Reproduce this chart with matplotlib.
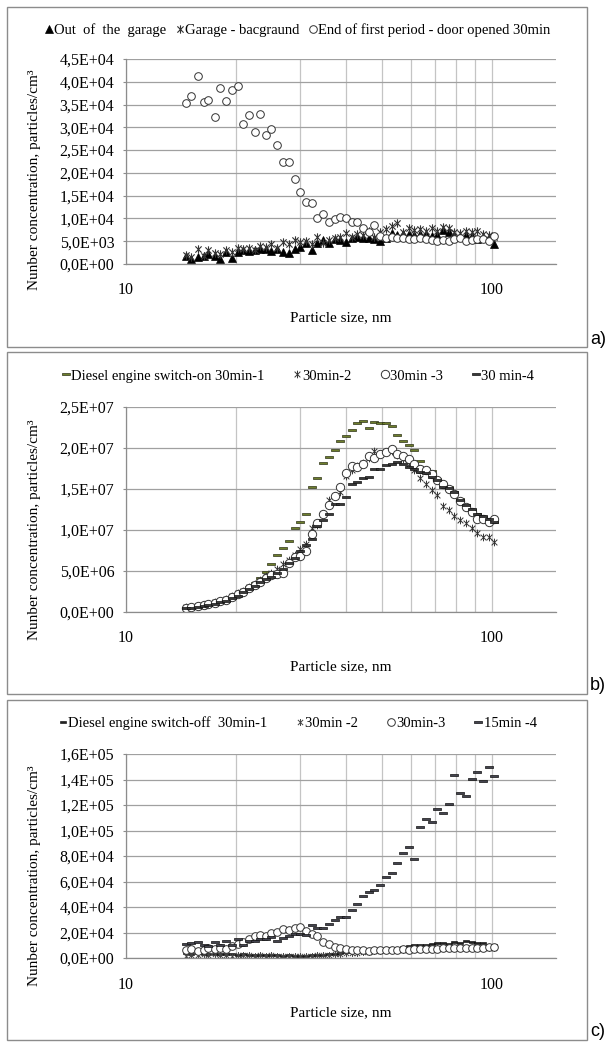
import numpy as np
import matplotlib
matplotlib.use("Agg")
from matplotlib import pyplot as plt
from matplotlib.path import Path
from matplotlib.patches import Rectangle
from matplotlib.ticker import FixedLocator, FuncFormatter, NullFormatter

plt.rcParams['font.family'] = ['Liberation Serif', 'DejaVu Serif']

# particle size channels, nm
size_nm = [14.6, 15.1, 15.7, 16.3, 16.8, 17.5, 18.1, 18.8, 19.5, 20.2,
           20.9, 21.7, 22.5, 23.3, 24.1, 25.0, 25.9, 26.9, 27.9, 28.9,
           30.0, 31.1, 32.2, 33.4, 34.6, 35.9, 37.2, 38.5, 40.0, 41.4,
           42.9, 44.5, 46.1, 47.8, 49.6, 51.4, 53.3, 55.2, 57.3, 59.4,
           61.5, 63.8, 66.1, 68.5, 71.0, 73.7, 76.4, 79.1, 82.0, 85.1,
           88.2, 91.4, 94.7, 98.2, 101.8]

# a) garage
a_out = [1800, 1000, 1600, 1800, 2300, 1700, 1200, 2700, 1400, 2600,
         3100, 2900, 3100, 3400, 3400, 2900, 3300, 2700, 2500, 3400,
         3700, 4700, 3100, 4700, 5300, 4700, 5500, 5300, 4900, 5700,
         5900, 5800, 5600, 5400, 5000, 5600, 6700, 6400, 6500, 6600,
         6300, 6500, 6600, 6100, 6400, 7400, 7000, 6200, 6000, 6300,
         6100, 5500, 5900, 5700, 4400]
a_bg = [2000, 1500, 3200, 1800, 3000, 2500, 2200, 3000, 2700, 3600,
        3300, 3500, 3000, 4000, 3800, 4300, 3600, 4900, 4500, 5300,
        4800, 5100, 4400, 6000, 4700, 5200, 5600, 5900, 6900, 6000,
        6500, 6300, 7200, 6000, 7100, 7600, 8400, 8900, 7000, 7800,
        7400, 7600, 7200, 8000, 7300, 8100, 7800, 7000, 6900, 7200,
        7000, 7200, 6600, 6300, 6000]
a_door = [35300, 36800, 41300, 35500, 36100, 32200, 38600, 35800, 38300, 39000,
          30700, 32600, 29000, 32900, 28400, 29700, 26200, 22400, 22500, 18600,
          15900, 13700, 13300, 10100, 10900, 9200, 9800, 10400, 10200, 9200,
          9200, 7800, 7000, 8500, 6100, 5800, 6000, 5600, 5700, 5500,
          5500, 5600, 5400, 5300, 5000, 5200, 5100, 5500, 5700, 5000,
          5200, 5500, 5400, 5000, 6100]

# b) switch-on, millions per cm3
b_1 = [0.50, 0.55, 0.65, 0.75, 0.85, 1.00, 1.20, 1.45, 1.70, 2.10,
       2.50, 3.00, 3.50, 4.20, 4.90, 5.90, 6.90, 7.80, 8.70, 10.2,
       11.0, 12.0, 15.2, 16.4, 18.2, 18.9, 19.8, 20.8, 21.5, 22.2,
       23.1, 23.3, 22.4, 23.2, 23.1, 23.1, 22.7, 21.6, 20.9, 20.4,
       19.8, 18.4, 17.5, 17.2, 16.2, 15.6, 15.2, 14.6, 13.8, 13.0,
       12.5, 11.9, 11.6, 11.3, 11.0]
b_2 = [0.55, 0.65, 0.75, 0.85, 1.00, 1.20, 1.40, 1.60, 1.90, 2.30,
       2.60, 3.00, 3.40, 3.90, 4.40, 4.80, 5.20, 5.80, 6.40, 7.00,
       7.70, 8.30, 10.2, 10.6, 12.0, 13.6, 14.1, 14.6, 16.6, 17.3,
       17.8, 18.2, 18.8, 19.6, 19.3, 19.5, 19.6, 19.2, 18.7, 18.0,
       17.3, 16.4, 15.6, 14.9, 14.3, 12.9, 12.4, 11.7, 11.2, 10.8,
       10.2, 9.6, 9.2, 9.2, 8.5]
b_3 = [0.50, 0.60, 0.70, 0.80, 0.95, 1.10, 1.30, 1.50, 1.80, 2.20,
       2.50, 2.90, 3.30, 3.70, 4.10, 4.50, 4.60, 4.80, 6.00, 6.70,
       6.80, 7.50, 9.50, 10.8, 11.9, 13.1, 14.2, 15.2, 17.0, 17.8,
       17.7, 18.1, 19.0, 18.8, 19.3, 19.5, 19.9, 19.3, 19.0, 18.7,
       18.0, 17.5, 17.3, 16.8, 16.1, 15.6, 15.0, 14.4, 13.5, 12.8,
       12.2, 11.3, 11.3, 11.0, 11.4]
b_4 = [0.45, 0.50, 0.60, 0.70, 0.85, 1.00, 1.20, 1.40, 1.70, 2.00,
       2.40, 2.80, 3.20, 3.60, 4.00, 4.30, 4.70, 5.20, 6.00, 6.60,
       7.40, 8.20, 8.90, 10.5, 11.2, 11.9, 13.2, 13.2, 14.0, 15.6,
       15.8, 16.4, 16.5, 17.4, 17.4, 17.9, 18.1, 18.3, 18.0, 17.7,
       17.4, 17.1, 16.9, 16.5, 16.1, 15.3, 15.1, 14.6, 13.6, 13.0,
       12.6, 12.0, 11.7, 11.3, 11.0]

# c) switch-off
c_1 = [4000, 3500, 3800, 3200, 3500, 3000, 3300, 2800, 3000, 2600,
       2800, 2400, 2500, 2200, 2300, 2000, 2100, 1900, 2000, 1800,
       1700, 1900, 2000, 2300, 2600, 3000, 3400, 3900, 4400, 5000,
       5500, 6000, 6200, 6700, 7000, 7300, 7800, 8200, 9000, 9400,
       10000, 10500, 10200, 11000, 11500, 12000, 11200, 12500, 12000, 13000,
       12500, 12000, 11500, 10500, 10000]
c_2 = [1500, 2500, 2000, 3000, 2200, 2800, 2000, 2600, 1800, 2400,
       2000, 2300, 1800, 2200, 1600, 2000, 1500, 1800, 1400, 1700,
       1500, 1600, 1800, 2000, 2200, 2500, 2800, 3200, 3600, 4000,
       4300, 4700, 5000, 5300, 5600, 5900, 6100, 6400, 6600, 6900,
       7000, 7300, 7500, 7200, 7800, 7600, 8000, 7700, 8100, 7900,
       8200, 8000, 7700, 8100, 7800]
c_3 = [6000, 7000, 5700, 6500, 7600, 7000, 7800, 7000, 9100, 11000,
       12500, 15100, 17000, 18300, 17500, 19600, 20600, 23000, 21800, 23800,
       24300, 20800, 18500, 17500, 12800, 10700, 8900, 7600, 6800, 6300,
       6000, 6200, 5800, 6400, 6200, 6500, 6300, 6600, 6800, 6500,
       7000, 7200, 7000, 7400, 7300, 7800, 7500, 7700, 8000, 7600,
       7900, 8200, 8000, 8300, 8500]
c_4 = [11200, 11700, 12300, 10400, 9100, 12500, 10200, 13000, 9900, 14900,
       10400, 13600, 13600, 14900, 14900, 16200, 13000, 15700, 17500, 18500,
       18800, 18300, 25600, 23500, 23500, 26600, 29500, 32100, 32100, 37800,
       42500, 48300, 51900, 53500, 57400, 63900, 66500, 74400, 82200, 86900,
       77800, 103100, 108800, 107000, 116900, 114100, 120600, 143600, 129200, 127200,
       140200, 146200, 139100, 149600, 142800]

W, H = 611, 1043
FS = 11.5

# custom markers like the Excel ones
dash = Path([(-1, -0.3), (1, -0.3), (1, 0.3), (-1, 0.3), (-1, -0.3)],
            [Path.MOVETO, Path.LINETO, Path.LINETO, Path.LINETO, Path.CLOSEPOLY])
star = Path([(0, -1), (0, 1), (-0.75, -0.75), (0.75, 0.75), (-0.75, 0.75), (0.75, -0.75)],
            [Path.MOVETO, Path.LINETO, Path.MOVETO, Path.LINETO, Path.MOVETO, Path.LINETO])


def fx(x):
    return x / W


def fy(y):
    return 1 - y / H


def panel(fig, box, plot, ymax, ystep, series, leg_y, colsp, tick_y, lab_y, ylab_y, tag):
    # frame around the panel
    fig.patches.append(Rectangle((fx(box[0]), fy(box[3])), fx(box[2] - box[0]), (box[3] - box[1]) / H,
                                 transform=fig.transFigure, fill=False, ec='#8c8c8c', lw=1.0))
    x0, y0, x1, y1 = plot
    ax = fig.add_axes([fx(x0), fy(y1), fx(x1 - x0), (y1 - y0) / H])
    ax.set_xscale('log')
    ax.set_xlim(10, 150)
    ax.set_ylim(0, ymax)

    handles = []
    for ys, kw, lab in series:
        h, = ax.plot(size_nm, ys, linestyle='none', label=lab, **kw)
        handles.append(h)

    ax.xaxis.set_major_locator(FixedLocator([10, 100]))
    ax.xaxis.set_minor_locator(FixedLocator([20, 30, 40, 50, 60, 70, 80, 90]))
    ax.xaxis.set_major_formatter(FuncFormatter(lambda v, p: '%d' % v))
    ax.xaxis.set_minor_formatter(NullFormatter())
    ax.set_yticks(np.arange(0, ymax + ystep / 2, ystep))
    ax.yaxis.set_major_formatter(FuncFormatter(lambda v, p: ('%.1E' % v).replace('.', ',')))

    ax.tick_params(axis='x', which='both', length=0, labelsize=FS,
                   pad=(tick_y - y1) * 0.72 - 4.5)
    ax.tick_params(axis='y', length=2.5, color='#8c8c8c', labelsize=FS, pad=6)
    ax.grid(True, axis='y', which='major', color='#a0a0a0', lw=0.9)
    ax.grid(True, axis='x', which='both', color='#c4c4c4', lw=0.9)
    ax.set_axisbelow(True)
    for s in ['top', 'right']:
        ax.spines[s].set_visible(False)
    for s in ['left', 'bottom']:
        ax.spines[s].set_color('#8c8c8c')
        ax.spines[s].set_linewidth(0.9)

    ax.legend(handles=handles, loc='center', bbox_to_anchor=(fx(298), fy(leg_y)),
              bbox_transform=fig.transFigure, ncol=len(handles), frameon=False,
              fontsize=10.5, handlelength=0.5, handletextpad=0.1, columnspacing=colsp,
              borderaxespad=0, numpoints=1)

    fig.text(fx(341), fy(lab_y), 'Particle size, nm', ha='center', va='center', fontsize=11)
    fig.text(fx(35), fy(ylab_y), 'Nunber concentration, particles/cm³', rotation=90,
             ha='center', va='center', fontsize=11)
    fig.text(fx(box[2] + 3), fy(box[3] - 8), tag, ha='left', va='center', fontsize=13,
             family='Liberation Sans')
    return ax


fig = plt.figure(figsize=(W / 100, H / 100), dpi=100)

tri = dict(marker='^', ms=5.5, color='black', mew=0.5)
ast = dict(marker=star, ms=6, mfc='none', mec='#333333', mew=0.8)
circ = dict(marker='o', ms=5.5, mfc='white', mec='#333333', mew=0.7)

panel(fig, (7, 7, 587, 347), (126, 59, 556, 264), 45000, 5000,
      [(a_out, tri, 'Out  of  the  garage'),
       (a_bg, ast, 'Garage - bacgraund'),
       (a_door, circ, 'End of first period - door opened 30min')],
      30, 0.7, 288, 318, 180, 'a)')

green = dict(marker=dash, ms=6, mfc='#6e7f2c', mec='#2e3318', mew=0.5)
ast_b = dict(marker=star, ms=5.5, mfc='none', mec='#333333', mew=0.7)
circ_b = dict(marker='o', ms=6, mfc='white', mec='#333333', mew=0.7)
dark_b = dict(marker=dash, ms=6, mfc='#3a3a3a', mec='#111111', mew=0.5)

panel(fig, (7, 352, 587, 694), (126, 407, 556, 612), 2.5e7, 5e6,
      [(np.array(b_1) * 1e6, green, 'Diesel engine switch-on 30min-1'),
       (np.array(b_2) * 1e6, ast_b, '30min-2'),
       (np.array(b_3) * 1e6, circ_b, '30min -3'),
       (np.array(b_4) * 1e6, dark_b, '30 min-4')],
      376, 2.0, 636, 667, 530, 'b)')

blk = dict(marker=dash, ms=5, mfc='#222222', mec='#000000', mew=0.4)
ast_c = dict(marker=star, ms=5, mfc='none', mec='#444444', mew=0.7)
circ_c = dict(marker='o', ms=5.5, mfc='white', mec='#333333', mew=0.7)
slate = dict(marker=dash, ms=6, mfc='#44444f', mec='#111111', mew=0.5)

panel(fig, (7, 700, 587, 1040), (126, 754, 556, 958), 1.6e5, 2e4,
      [(c_1, blk, 'Diesel engine switch-off  30min-1'),
       (c_2, ast_c, '30min -2'),
       (c_3, circ_c, '30min-3'),
       (c_4, slate, '15min -4')],
      723, 2.0, 983, 1013, 876, 'c)')

fig.savefig('out.png', dpi=100, facecolor='white')
